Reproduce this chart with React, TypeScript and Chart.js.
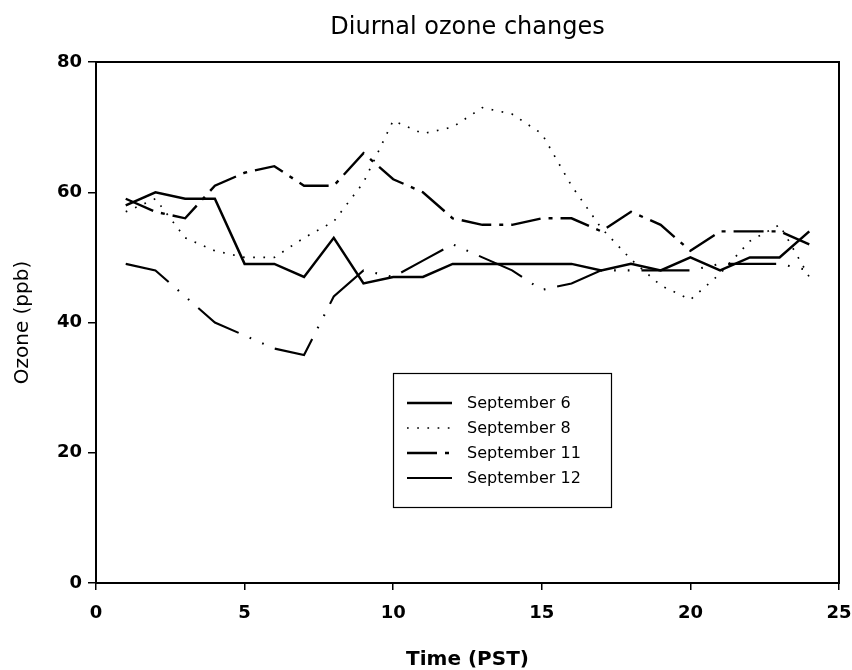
import { useEffect, useRef } from 'react';
import { Chart, registerables } from 'chart.js';

Chart.register(...registerables);

// ---- data ----
const hours = [1, 2, 3, 4, 5, 6, 7, 8, 9, 10, 11, 12, 13, 14, 15, 16, 17, 18, 19, 20, 21, 22, 23, 24];
const sept6 = [58, 60, 59, 59, 49, 49, 47, 53, 46, 47, 47, 49, 49, 49, 49, 49, 48, 49, 48, 50, 48, 50, 50, 54];
const sept8 = [57, 59, 53, 51, 50, 50, 53, 55.5, 61.5, 71, 69, 70, 73, 72, 69, 61, 54.5, 49.7, 45.7, 43.5, 47.5, 52.5, 55, 47];
const sept11 = [59, 57, 56, 61, 63, 64, 61, 61, 66, 62, 60, 56, 55, 55, 56, 56, 54, 57, 55, 51, 54, 54, 54, 52];
const sept12 = [49, 48, 44, 40, 38, 36, 35, 44, 48, 47, 49.5, 52, 50, 48, 45, 46, 48, 48, 48, 48, 49, 49, 49, 48];
const seriesLabels = ['September 6', 'September 8', 'September 11', 'September 12'];
const xTicks = [0, 5, 10, 15, 20, 25];
const yTicks = [0, 20, 40, 60, 80];

const FONT = "'DejaVu Sans', 'Liberation Sans', sans-serif";

const boxLegend = {
  id: 'boxLegend',
  afterDatasetsDraw(chart: any) {
    const ctx = chart.ctx;
    const x0 = 393;
    const y0 = 373;
    const w = 218;
    const h = 134;
    ctx.save();
    ctx.fillStyle = '#ffffff';
    ctx.fillRect(x0, y0, w, h);
    ctx.strokeStyle = '#000000';
    ctx.lineWidth = 1.2;
    ctx.setLineDash([]);
    ctx.strokeRect(x0 + 0.5, y0 + 0.5, w, h);
    chart.data.datasets.forEach((ds: any, i: number) => {
      const y = y0 + 30 + i * 25;
      ctx.setLineDash(ds.borderDash || []);
      ctx.lineDashOffset = 0;
      ctx.lineWidth = ds.borderWidth;
      ctx.lineCap = 'butt';
      ctx.strokeStyle = '#000000';
      ctx.beginPath();
      ctx.moveTo(x0 + 14, y);
      ctx.lineTo(x0 + 59, y);
      ctx.stroke();
      ctx.setLineDash([]);
      ctx.fillStyle = '#000000';
      ctx.font = `16px ${FONT}`;
      ctx.textBaseline = 'middle';
      ctx.textAlign = 'left';
      ctx.fillText(ds.label, x0 + 74, y + 1);
    });
    ctx.restore();
  },
};

function toPoints(values: number[]) {
  return hours.map((h, i) => ({ x: h, y: values[i] }));
}

export default function App() {
  const canvasRef = useRef<HTMLCanvasElement | null>(null);

  useEffect(() => {
    if (!canvasRef.current) return;
    const tickFont = { family: FONT, size: 18, weight: 'bold' as const };
    const chart = new Chart(canvasRef.current, {
      type: 'line',
      data: {
        datasets: [
          {
            label: seriesLabels[0],
            data: toPoints(sept6),
            borderColor: '#000000',
            borderWidth: 2.5,
            borderDash: [],
          },
          {
            label: seriesLabels[1],
            data: toPoints(sept8),
            borderColor: '#000000',
            borderWidth: 1.7,
            borderDash: [1.7, 8.5],
          },
          {
            label: seriesLabels[2],
            data: toPoints(sept11),
            borderColor: '#000000',
            borderWidth: 2.4,
            borderDash: [30, 8, 4, 8],
          },
          {
            label: seriesLabels[3],
            data: toPoints(sept12),
            borderColor: '#000000',
            borderWidth: 2.1,
            borderDash: [48, 12, 1.7, 12, 1.7, 12],
          },
        ],
      },
      options: {
        responsive: false,
        animation: false,
        layout: { padding: { left: 0, right: 13, top: 0, bottom: 0 } },
        elements: {
          point: { radius: 0, hoverRadius: 0 },
          line: { tension: 0, fill: false, borderCapStyle: 'butt' },
        },
        plugins: {
          legend: { display: false },
          tooltip: { enabled: false },
          title: {
            display: true,
            text: 'Diurnal ozone changes',
            color: '#000000',
            fullSize: false,
            font: { family: FONT, size: 24, weight: 'normal', lineHeight: 1.2 },
            padding: { top: 13.6, bottom: 19.6 },
          },
        },
        scales: {
          x: {
            type: 'linear',
            position: 'bottom',
            min: 0,
            max: 25,
            afterBuildTicks: (s: any) => {
              s.ticks = xTicks.map((v) => ({ value: v }));
            },
            ticks: {
              color: '#000000',
              font: tickFont,
              padding: 13,
              maxRotation: 0,
              autoSkip: false,
            },
            grid: {
              display: true,
              drawOnChartArea: false,
              drawTicks: true,
              tickLength: 7,
              color: '#000000',
              lineWidth: 1.5,
            },
            border: { display: true, color: '#000000', width: 2 },
            title: {
              display: true,
              text: 'Time (PST)',
              color: '#000000',
              font: { family: FONT, size: 20, weight: 'bold', lineHeight: 1 },
              padding: 0,
            },
            afterFit: (s: any) => {
              s.height = 87;
              s.paddingLeft = 0;
              s.paddingRight = 0;
            },
          },
          y: {
            type: 'linear',
            position: 'left',
            min: 0,
            max: 80,
            afterBuildTicks: (s: any) => {
              s.ticks = yTicks.map((v) => ({ value: v }));
            },
            ticks: {
              color: '#000000',
              font: tickFont,
              padding: 6,
              autoSkip: false,
            },
            grid: {
              display: true,
              drawOnChartArea: false,
              drawTicks: true,
              tickLength: 8,
              color: '#000000',
              lineWidth: 1.5,
            },
            border: { display: true, color: '#000000', width: 2 },
            title: {
              display: true,
              text: 'Ozone (ppb)',
              color: '#000000',
              font: { family: FONT, size: 20, weight: 'normal', lineHeight: 1 },
              padding: { top: 13, bottom: 0 },
            },
            afterFit: (s: any) => {
              s.width = 96;
              s.paddingTop = 0;
              s.paddingBottom = 0;
            },
          },
          x2: {
            type: 'linear',
            position: 'top',
            min: 0,
            max: 25,
            ticks: { display: false },
            grid: { display: false },
            border: { display: true, color: '#000000', width: 2 },
            afterFit: (s: any) => {
              s.height = 0;
              s.paddingLeft = 0;
              s.paddingRight = 0;
            },
          },
          y2: {
            type: 'linear',
            position: 'right',
            min: 0,
            max: 80,
            ticks: { display: false },
            grid: { display: false },
            border: { display: true, color: '#000000', width: 2 },
            afterFit: (s: any) => {
              s.width = 0;
              s.paddingTop = 0;
              s.paddingBottom = 0;
            },
          },
        },
      },
      plugins: [boxLegend],
    });
    return () => chart.destroy();
  }, []);

  return (
    <div style={{ position: 'fixed', left: 0, top: 0, width: 852, height: 670, background: '#ffffff' }}>
      <canvas ref={canvasRef} width={852} height={670} style={{ display: 'block' }} />
    </div>
  );
}
